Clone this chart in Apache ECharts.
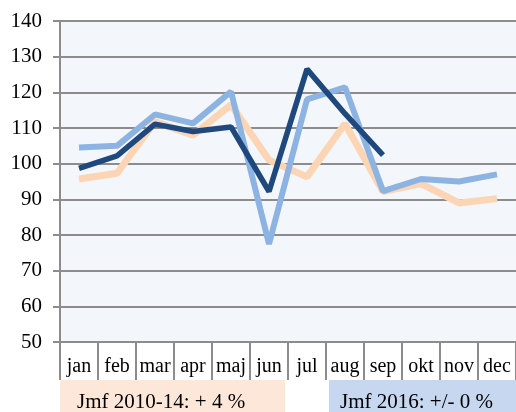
<!DOCTYPE html>
<html>
<head>
<meta charset="utf-8">
<script src="https://cdn.jsdelivr.net/npm/echarts@6/dist/echarts.min.js"></script>
<style>
  html, body { margin: 0; padding: 0; background: #fff; }
  #chart { width: 516px; height: 412px; }
</style>
</head>
<body>
<div id="chart"></div>
<script>
// data
var months = ["jan", "feb", "mar", "apr", "maj", "jun", "jul", "aug", "sep", "okt", "nov", "dec"];
var snitt1014 = [95.7, 97.3, 111.8, 108.0, 116.5, 101.0, 96.3, 111.2, 92.2, 94.4, 89.0, 90.2];
var ar2015 = [104.5, 105.0, 113.8, 111.3, 120.2, 77.5, 118.0, 121.4, 92.3, 95.7, 95.0, 97.0];
var ar2016 = [98.7, 102.2, 111.1, 109.0, 110.3, 92.2, 126.5, 114.0, 102.4, null, null, null];
var yTicks = [50, 140, 10]; // min, max, step

var font = "Liberation Serif";
var grey = "#8c8c8c";

var myChart = echarts.init(document.getElementById("chart"));

var option = {
  animation: false,
  grid: {
    left: 60, right: 0, top: 21, bottom: 70,
    show: true, backgroundColor: "#f3f7fb", borderWidth: 0
  },
  xAxis: {
    type: "category",
    data: months,
    boundaryGap: true,
    axisLine: { show: true, lineStyle: { color: grey, width: 2 } },
    axisTick: { show: true, interval: 0, length: 38, lineStyle: { color: grey, width: 2 } },
    axisLabel: { interval: 0, hideOverlap: false, color: "#000", fontFamily: font, fontSize: 20, margin: 15 }
  },
  yAxis: {
    type: "value",
    min: yTicks[0], max: yTicks[1], interval: yTicks[2],
    axisLine: { show: true, lineStyle: { color: grey, width: 2 } },
    axisTick: { show: true, length: 7, lineStyle: { color: grey, width: 2 } },
    axisLabel: { color: "#000", fontFamily: font, fontSize: 21, margin: 18 },
    splitLine: { show: true, lineStyle: { color: grey, width: 2 } }
  },
  series: [
    {
      name: "Jmf 2010-14", type: "line", data: snitt1014,
      symbol: "none", z: 2,
      lineStyle: { color: "#fcd5b5", width: 7 }
    },
    {
      name: "2015", type: "line", data: ar2015,
      symbol: "none", z: 3,
      lineStyle: { color: "#8db3e2", width: 6 }
    },
    {
      name: "2016", type: "line", data: ar2016,
      symbol: "none", z: 4, connectNulls: false,
      lineStyle: { color: "#1f497d", width: 5.5 }
    }
  ],
  // comment boxes under the axis
  graphic: [
    { type: "rect", left: 60, top: 380, shape: { width: 225, height: 32 }, style: { fill: "#fde7d8" } },
    { type: "text", left: 77, top: 392, style: { text: "Jmf 2010-14: + 4 %", font: "21px Liberation Serif", fill: "#000" } },
    { type: "rect", left: 329, top: 380, shape: { width: 187, height: 32 }, style: { fill: "#c6d7ef" } },
    { type: "text", left: 340, top: 392, style: { text: "Jmf 2016: +/- 0 %", font: "21px Liberation Serif", fill: "#000" } }
  ]
};

myChart.setOption(option);
</script>
</body>
</html>
